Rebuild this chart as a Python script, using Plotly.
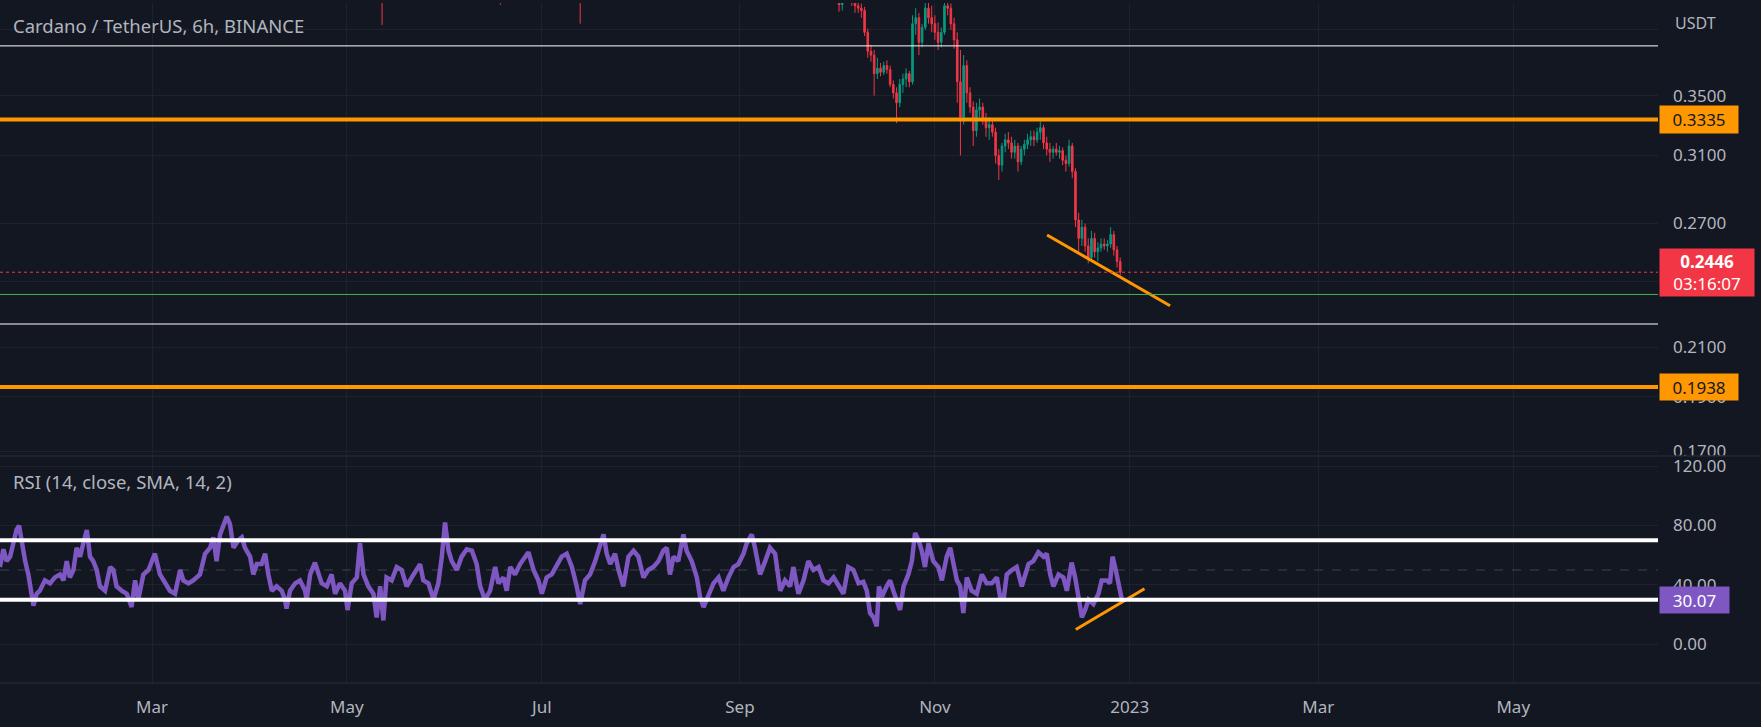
import numpy as np
import pandas as pd
import plotly.graph_objects as go

# ---------------- data ----------------
# sparse early candles whose wicks reach into the visible price range
early_dates = ["2022-05-12", "2022-06-18", "2022-07-13"]
early_open = [0.525, 0.468, 0.448]
early_high = [0.556, 0.476, 0.455]
early_low = [0.404, 0.421, 0.405]
early_close = [0.498, 0.452, 0.443]

# daily candles 2022-09-28 .. 2022-12-29
candle_start, candle_end = "2022-09-28", "2022-12-29"
c_open = [0.440, 0.443, 0.439,
          0.432, 0.428, 0.421, 0.426, 0.435, 0.430, 0.424, 0.420, 0.418, 0.416,
          0.398, 0.383, 0.380, 0.366, 0.370, 0.367, 0.372, 0.369, 0.358, 0.352,
          0.345, 0.358, 0.362, 0.366, 0.360, 0.405, 0.410, 0.390, 0.402, 0.418, 0.410,
          0.405, 0.398, 0.390, 0.398, 0.420, 0.418, 0.405, 0.392, 0.360, 0.335,
          0.372, 0.352, 0.342, 0.326, 0.340, 0.342, 0.334, 0.328, 0.330, 0.325,
          0.310, 0.304, 0.316, 0.320, 0.318, 0.312, 0.316, 0.306, 0.314, 0.317,
          0.320, 0.322, 0.320, 0.325, 0.328, 0.318, 0.314, 0.312, 0.314, 0.312,
          0.313, 0.307, 0.305, 0.316, 0.300, 0.272, 0.262, 0.268, 0.258, 0.252,
          0.262, 0.255, 0.257, 0.259, 0.258, 0.259, 0.264, 0.256, 0.250]
c_high = [0.452, 0.448, 0.445,
          0.436, 0.432, 0.430, 0.440, 0.438, 0.434, 0.427, 0.424, 0.422, 0.419,
          0.401, 0.388, 0.384, 0.378, 0.374, 0.375, 0.376, 0.372, 0.361, 0.356,
          0.362, 0.366, 0.370, 0.368, 0.412, 0.418, 0.414, 0.405, 0.425, 0.428, 0.420,
          0.412, 0.406, 0.402, 0.425, 0.430, 0.422, 0.410, 0.398, 0.384, 0.380,
          0.376, 0.356, 0.346, 0.345, 0.348, 0.345, 0.338, 0.335, 0.334, 0.328,
          0.314, 0.318, 0.324, 0.325, 0.322, 0.320, 0.318, 0.316, 0.320, 0.324,
          0.326, 0.326, 0.328, 0.332, 0.330, 0.322, 0.318, 0.316, 0.318, 0.316,
          0.315, 0.310, 0.320, 0.318, 0.302, 0.276, 0.272, 0.270, 0.262, 0.266,
          0.265, 0.260, 0.262, 0.262, 0.261, 0.268, 0.266, 0.258, 0.252]
c_low = [0.428, 0.430, 0.425,
         0.424, 0.415, 0.416, 0.424, 0.425, 0.420, 0.414, 0.414, 0.410, 0.395,
         0.378, 0.375, 0.350, 0.362, 0.364, 0.365, 0.366, 0.356, 0.348, 0.331,
         0.342, 0.352, 0.356, 0.356, 0.358, 0.396, 0.380, 0.386, 0.400, 0.405, 0.398,
         0.392, 0.384, 0.386, 0.396, 0.412, 0.400, 0.385, 0.345, 0.310, 0.330,
         0.345, 0.338, 0.316, 0.322, 0.335, 0.330, 0.322, 0.320, 0.322, 0.305,
         0.295, 0.300, 0.312, 0.314, 0.308, 0.308, 0.300, 0.304, 0.310, 0.314,
         0.316, 0.316, 0.318, 0.320, 0.314, 0.310, 0.306, 0.308, 0.310, 0.308,
         0.304, 0.300, 0.303, 0.296, 0.268, 0.254, 0.258, 0.255, 0.249, 0.250,
         0.252, 0.250, 0.255, 0.256, 0.255, 0.257, 0.253, 0.247, 0.243]
c_close = [0.443, 0.439, 0.432,
           0.428, 0.421, 0.426, 0.435, 0.430, 0.424, 0.420, 0.418, 0.416, 0.398,
           0.383, 0.380, 0.366, 0.370, 0.367, 0.372, 0.369, 0.358, 0.352, 0.345,
           0.358, 0.362, 0.366, 0.360, 0.405, 0.410, 0.390, 0.402, 0.418, 0.410, 0.405,
           0.398, 0.390, 0.398, 0.420, 0.418, 0.405, 0.392, 0.360, 0.335, 0.372,
           0.352, 0.342, 0.326, 0.340, 0.342, 0.334, 0.328, 0.330, 0.325, 0.310,
           0.304, 0.316, 0.320, 0.318, 0.312, 0.316, 0.306, 0.314, 0.317, 0.320,
           0.322, 0.320, 0.325, 0.328, 0.318, 0.314, 0.312, 0.314, 0.312, 0.313,
           0.307, 0.305, 0.316, 0.300, 0.272, 0.262, 0.268, 0.258, 0.252, 0.262,
           0.255, 0.257, 0.259, 0.258, 0.259, 0.264, 0.256, 0.250, 0.2446]

# RSI readings: (day of 2022, value)
rsi_part1 = [(11.4, 52), (12.5, 64), (13.5, 56), (14.6, 59), (15.6, 68), (16.6, 77), (17.4, 80),
             (18.2, 68), (19.3, 56), (20.3, 47), (21.3, 32), (21.9, 26), (22.9, 34), (23.9, 36),
             (25.5, 43), (27.1, 41), (28.6, 45), (30.2, 47), (31.3, 43), (32.3, 56), (33.3, 45),
             (34.4, 50), (35.4, 65), (36.5, 59), (37.5, 68), (38.6, 77), (39.6, 59), (40.6, 56),
             (41.7, 50), (42.7, 39), (44.3, 36), (45.9, 52), (46.9, 50), (47.9, 39), (49.5, 36),
             (51.1, 34), (52.6, 25), (53.7, 43), (54.7, 30), (56.3, 47), (57.9, 50), (59.4, 59),
             (59.9, 61), (61.5, 47), (63.1, 41), (64.6, 36), (66.2, 34), (67.8, 50), (68.8, 43),
             (70.4, 41), (71.9, 43), (74.0, 47), (75.6, 61), (77.2, 65), (78.2, 72), (79.2, 56),
             (80.3, 74), (81.3, 79), (82.4, 86), (83.4, 81), (84.5, 65), (86.0, 70), (87.1, 72),
             (88.1, 65), (89.7, 59), (90.7, 47), (91.8, 54), (93.3, 54), (94.4, 61), (95.4, 47),
             (96.5, 36), (98.0, 39), (99.6, 36), (100.6, 30)]
rsi_part2 = [(101.1, 24), (102.2, 36), (103.8, 41), (105.3, 43), (106.9, 36), (107.4, 30),
             (108.5, 47), (110.0, 55), (111.1, 47), (112.1, 41), (113.7, 39), (115.2, 47),
             (116.3, 34), (117.8, 41), (119.4, 36), (120.2, 23), (121.5, 41), (123.1, 45),
             (124.1, 68), (125.2, 47), (126.7, 39), (128.3, 34), (129.3, 18), (130.4, 39),
             (131.4, 16), (132.4, 45), (134.0, 43), (135.6, 52), (137.1, 50), (138.7, 39),
             (140.3, 45), (141.8, 50), (142.9, 54), (143.9, 43), (145.5, 41), (147.1, 30),
             (148.6, 41), (149.7, 59), (150.7, 82), (151.8, 63), (152.8, 56), (154.4, 50),
             (155.9, 59), (157.5, 64), (159.1, 63), (160.6, 54), (161.7, 39), (163.2, 30),
             (164.8, 36), (166.4, 52), (167.4, 41), (169.0, 45), (170.0, 36), (171.1, 52),
             (172.6, 47), (174.2, 54), (175.7, 59), (176.8, 62), (178.4, 50), (179.9, 43),
             (181.0, 34), (182.5, 45), (184.1, 47), (185.7, 54), (187.2, 59), (188.8, 61),
             (190.4, 52)]
rsi_part3 = [(191.9, 39), (193.0, 27), (194.5, 43), (196.1, 47), (197.7, 56), (199.2, 68),
             (200.3, 74), (201.3, 61), (202.4, 54), (203.9, 61), (205.0, 50), (206.5, 39),
             (208.1, 59), (209.7, 63), (211.2, 59), (212.8, 45), (214.3, 50), (215.9, 52),
             (217.5, 56), (219.0, 63), (220.1, 65), (221.1, 47), (222.2, 59), (223.7, 56),
             (225.3, 74), (226.3, 63), (227.9, 56), (229.5, 45), (230.5, 32), (231.6, 25),
             (233.1, 32), (234.7, 41), (236.3, 45), (237.8, 36), (239.4, 45), (241.0, 52),
             (242.5, 54), (244.1, 61), (245.1, 68), (246.7, 74), (247.7, 65), (249.3, 47),
             (250.9, 56), (252.4, 65), (254.0, 61), (255.6, 36), (257.1, 43), (258.7, 39),
             (259.7, 52), (261.3, 34), (262.9, 43), (264.4, 56), (266.0, 50), (267.6, 52),
             (269.1, 43), (270.7, 41), (272.3, 45), (273.8, 39), (275.4, 34), (276.9, 52),
             (278.5, 50)]
rsi_part4 = [(280.1, 41), (281.6, 42), (282.7, 36), (283.7, 21), (284.8, 18), (285.8, 12),
             (286.5, 39), (287.4, 32), (288.9, 39), (290.0, 43), (291.0, 36), (292.1, 30),
             (293.1, 23), (294.2, 39), (295.7, 47), (296.8, 56), (297.8, 75), (298.9, 70),
             (299.9, 63), (300.9, 52), (302.0, 68), (303.5, 56), (305.1, 52), (306.2, 43),
             (307.7, 59), (308.8, 65), (309.8, 56), (310.9, 43), (311.9, 39), (312.9, 21),
             (314.0, 45), (315.5, 36), (317.1, 34), (318.7, 47), (320.2, 41), (321.8, 41),
             (323.4, 45), (324.4, 32), (325.5, 30), (326.5, 47), (328.1, 50), (329.6, 52),
             (331.2, 39), (332.2, 47), (333.3, 54), (334.8, 56), (336.4, 62), (338.0, 59),
             (339.0, 61), (340.1, 47), (341.1, 39), (342.7, 47), (344.2, 45), (345.3, 36),
             (346.8, 55), (347.9, 45), (348.9, 34), (350.0, 18), (351.0, 23), (352.1, 30),
             (353.6, 27), (355.2, 34), (356.2, 43), (357.8, 43), (358.8, 41), (359.6, 59),
             (360.6, 50), (361.4, 41), (362.5, 30.07)]

# drawings
price_trend_day = [339.1, 377.6]
price_trend_val = [0.2638, 0.2285]
rsi_trend_day = [348.1, 369.6]
rsi_trend_val = [9.9, 37.4]
white_levels = [0.3872, 0.2202]
orange_levels = [0.3335, 0.1938]
green_level = 0.2338
last_price = 0.2446
last_rsi = 30.07
countdown = "03:16:07"
rsi_bands = [70, 30]
rsi_mid = 50

price_ticks = [0.17, 0.19, 0.21, 0.24, 0.27, 0.31, 0.35, 0.40]
price_ticktext = ["0.1700", "0.1900", "0.2100", "", "0.2700", "0.3100", "0.3500", ""]
rsi_ticks = [0, 40, 80, 120]
rsi_ticktext = ["0.00", "40.00", "80.00", "120.00"]
month_ticks = ["2022-03-01", "2022-05-01", "2022-07-01", "2022-09-01", "2022-11-01",
               "2023-01-01", "2023-03-01", "2023-05-01"]
month_text = ["Mar", "May", "Jul", "Sep", "Nov", "2023", "Mar", "May"]

# ---------------- styling ----------------
BG = "#131722"
GRID = "#1e222d"
TXT = "#b2b5be"
UP = "#089981"
DOWN = "#f23645"
ORANGE = "#ff9800"
PURPLE = "#7e57c2"
FONT = "Noto Sans"

W, H = 1761, 727
ML, MR, MT, MB = 0, 103, 0, 44
PH = H - MT - MB
main_bottom_px = 454
rsi_top_px = 456
main_dom = [(PH - main_bottom_px) / PH, 1]
rsi_dom = [0, (PH - rsi_top_px) / PH]

base = pd.Timestamp("2022-01-01")
def day_to_date(d):
    return base + pd.to_timedelta(np.asarray(d, dtype=float), unit="D")

cand_dates = list(pd.to_datetime(early_dates)) + list(pd.date_range(candle_start, candle_end, freq="D"))
opens = early_open + c_open
highs = early_high + c_high
lows = early_low + c_low
closes = early_close + c_close

rsi_all = rsi_part1 + rsi_part2 + rsi_part3 + rsi_part4
rsi_day = [p[0] for p in rsi_all]
rsi_val = [p[1] for p in rsi_all]

fig = go.Figure()
fig.add_trace(go.Candlestick(
    x=cand_dates, open=opens, high=highs, low=lows, close=closes,
    xaxis="x", yaxis="y",
    increasing=dict(line=dict(color=UP, width=1), fillcolor=UP),
    decreasing=dict(line=dict(color=DOWN, width=1), fillcolor=DOWN),
    whiskerwidth=0, hoverinfo="skip", showlegend=False))

fig.add_trace(go.Scatter(
    x=day_to_date(price_trend_day), y=price_trend_val, xaxis="x", yaxis="y",
    mode="lines", line=dict(color=ORANGE, width=3), hoverinfo="skip", showlegend=False))

fig.add_trace(go.Scatter(
    x=day_to_date(rsi_day), y=rsi_val, xaxis="x2", yaxis="y2",
    mode="lines", line=dict(color=PURPLE, width=4.5), hoverinfo="skip", showlegend=False))

fig.add_trace(go.Scatter(
    x=day_to_date(rsi_trend_day), y=rsi_trend_val, xaxis="x2", yaxis="y2",
    mode="lines", line=dict(color=ORANGE, width=3), hoverinfo="skip", showlegend=False))

shapes = []
for lv in white_levels:
    shapes.append(dict(type="line", xref="x domain", x0=0, x1=1, yref="y", y0=lv, y1=lv,
                       line=dict(color="#ffffff", width=1)))
shapes.append(dict(type="line", xref="x domain", x0=0, x1=1, yref="y", y0=green_level, y1=green_level,
                   line=dict(color="#4caf50", width=1)))
shapes.append(dict(type="line", xref="x domain", x0=0, x1=1, yref="y", y0=last_price, y1=last_price,
                   line=dict(color=DOWN, width=1, dash="dot")))
for lv in orange_levels:
    shapes.append(dict(type="line", xref="x domain", x0=0, x1=1, yref="y", y0=lv, y1=lv,
                       line=dict(color=ORANGE, width=4)))
shapes.append(dict(type="line", xref="x2 domain", x0=0, x1=1, yref="y2", y0=rsi_mid, y1=rsi_mid,
                   line=dict(color="rgba(120,123,134,0.45)", width=1, dash="dash")))
for lv in rsi_bands:
    shapes.append(dict(type="line", xref="x2 domain", x0=0, x1=1, yref="y2", y0=lv, y1=lv,
                       line=dict(color="#ffffff", width=4)))
# pane separator / cover for the clipped axis label
sep_y = (PH - 455) / PH
shapes.append(dict(type="rect", xref="paper", yref="paper", x0=1.0, x1=W / (W - MR),
                   y0=(PH - 457.5) / PH, y1=(PH - 454.5) / PH, fillcolor=BG, line=dict(width=0)))
shapes.append(dict(type="line", xref="paper", yref="paper", x0=0, x1=W / (W - MR),
                   y0=sep_y, y1=sep_y, line=dict(color="#2a2e39", width=1)))
shapes.append(dict(type="line", xref="paper", yref="paper", x0=0, x1=W / (W - MR),
                   y0=0, y1=0, line=dict(color="#2a2e39", width=1)))

def price_label(val, text, bg, fg, w, h):
    return dict(xref="paper", x=1, xanchor="left", xshift=1, yref="y", y=np.log10(val),
                yanchor="middle", text=text, showarrow=False, bgcolor=bg, borderpad=0,
                width=w, height=h, align="center", font=dict(family=FONT, size=17, color=fg))

annotations = [
    dict(xref="paper", yref="paper", x=0, xshift=11, y=1 - 23 / PH, xanchor="left", yanchor="middle",
         text="Cardano / TetherUS, 6h, BINANCE", showarrow=False,
         font=dict(family=FONT, size=18.5, color=TXT)),
    dict(xref="paper", yref="paper", x=0, xshift=11, y=(PH - 481) / PH, xanchor="left", yanchor="middle",
         text="RSI (14, close, SMA, 14, 2)", showarrow=False,
         font=dict(family=FONT, size=18.5, color=TXT)),
    dict(xref="paper", yref="paper", x=1, xshift=15, y=1 - 20 / PH, xanchor="left", yanchor="middle",
         text="USDT", showarrow=False, font=dict(family=FONT, size=16, color=TXT)),
    price_label(orange_levels[0], "%.4f" % orange_levels[0], ORANGE, "#131722", 78, 27),
    price_label(orange_levels[1], "%.4f" % orange_levels[1], ORANGE, "#131722", 78, 26),
    price_label(last_price, "<b>%.4f</b><br>%s" % (last_price, countdown), DOWN, "#ffffff", 94, 47),
    dict(xref="paper", x=1, xanchor="left", xshift=1, yref="y2", y=last_rsi, yanchor="middle",
         text="%.2f" % last_rsi, showarrow=False, bgcolor=PURPLE, borderpad=0, width=69, height=26,
         font=dict(family=FONT, size=17, color="#ffffff")),
]

x_range = ["2022-01-12 10:19", "2023-06-15 07:12"]
fig.update_layout(
    width=W, height=H, paper_bgcolor=BG, plot_bgcolor=BG,
    margin=dict(l=ML, r=MR, t=MT, b=MB), showlegend=False,
    xaxis=dict(domain=[0, 1], anchor="y", type="date", range=x_range,
               rangeslider=dict(visible=False), tickvals=month_ticks, ticktext=month_text,
               showticklabels=False, showgrid=True, gridcolor=GRID, gridwidth=1,
               zeroline=False, showline=False, ticks=""),
    xaxis2=dict(domain=[0, 1], anchor="y2", type="date", range=x_range, matches="x",
                tickvals=month_ticks, ticktext=month_text, showgrid=True, gridcolor=GRID,
                zeroline=False, showline=False, ticks="", ticklabelstandoff=12,
                tickfont=dict(family=FONT, size=17, color=TXT)),
    yaxis=dict(domain=main_dom, anchor="x", type="log", side="right",
               range=[np.log10(0.1688), np.log10(0.4224)],
               tickvals=price_ticks, ticktext=price_ticktext, showgrid=True, gridcolor=GRID,
               zeroline=False, showline=False, ticks="", ticklabelstandoff=14,
               tickfont=dict(family=FONT, size=17, color=TXT)),
    yaxis2=dict(domain=rsi_dom, anchor="x2", side="right", range=[-26.2, 126.2],
                tickvals=rsi_ticks, ticktext=rsi_ticktext, showgrid=True, gridcolor=GRID,
                zeroline=False, showline=False, ticks="", ticklabelstandoff=14,
                tickfont=dict(family=FONT, size=17, color=TXT)),
    shapes=shapes, annotations=annotations,
)

fig.write_html("out.html")
